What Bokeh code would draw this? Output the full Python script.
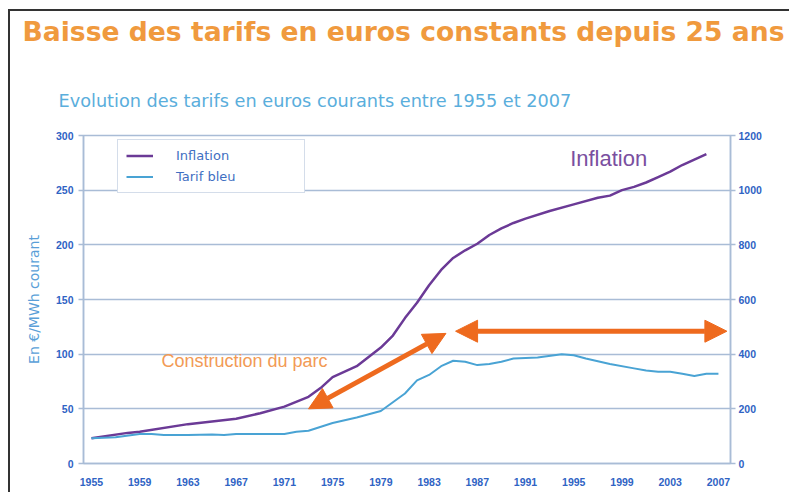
from bokeh.plotting import figure
from bokeh.models import (LinearAxis, Range1d, Label, Legend, LegendItem, Arrow,
                          NormalHead, FixedTicker, Title)
from bokeh.embed import file_html
from bokeh.resources import INLINE

# ---------------- data ----------------
years_infl = [1955, 1958, 1959, 1963, 1967, 1969, 1971, 1973, 1974, 1975, 1977, 1979,
              1980, 1981, 1982, 1983, 1984, 1985, 1986, 1987, 1988, 1989, 1990, 1991,
              1993, 1995, 1997, 1998, 1999, 2000, 2001, 2002, 2003, 2004, 2005, 2006]
inflation = [23, 28, 29, 36, 41, 46, 52, 61, 69, 79, 89, 106,
             117, 133, 147, 163, 177, 188, 195, 201, 209, 215, 220, 224,
             231, 237, 243, 245, 250, 253, 257, 262, 267, 273, 278, 283]

years_tarif = [1955, 1957, 1959, 1960, 1961, 1963, 1965, 1966, 1967, 1969, 1971, 1972,
               1973, 1975, 1977, 1979, 1980, 1981, 1982, 1983, 1984, 1985, 1986, 1987,
               1988, 1989, 1990, 1992, 1994, 1995, 1996, 1998, 2000, 2001, 2002, 2003,
               2004, 2005, 2006, 2007]
tarif_bleu = [23, 24, 27, 27, 26, 26, 26.5, 26, 27, 27, 27, 29,
              30, 37, 42, 48, 56, 64, 76, 81, 89, 94, 93, 90,
              91, 93, 96, 97, 100, 99, 96, 91, 87, 85, 84, 84,
              82, 80, 82, 82]

x_ticks = list(range(1955, 2008, 4))
left_ticks = [0, 50, 100, 150, 200, 250, 300]
right_ticks = [0, 200, 400, 600, 800, 1000, 1200]

arrow_diag_x = [1973.0, 1984.4]
arrow_diag_y = [50, 119]
arrow_h_x = [1985.2, 2007.7]
arrow_h_y = [121, 121]

title_text = "Baisse des tarifs en euros constants depuis 25 ans"
subtitle_text = "Evolution des tarifs en euros courants entre 1955 et 2007"
y_label = "En €/MWh courant"
series_names = ["Inflation", "Tarif bleu"]
note_construction = "Construction du parc"
note_inflation = "Inflation"

# ---------------- styles ----------------
FONT = "Liberation Sans"
WIDE = "DejaVu Sans"
ORANGE_T = "#F09A3E"
SUB_BLUE = "#5AAEDC"
TICK_BLUE = "#2F63C4"
GRID = "#A9BCD6"
PURPLE = "#6B3A96"
LBLUE = "#49A3D4"
ARROW = "#EE6A1E"

p = figure(width=781, height=483, output_backend="svg", toolbar_location=None,
           x_range=Range1d(1954.34, 2008.0), y_range=Range1d(0, 300),
           min_border_left=73, min_border_right=61, min_border_top=124,
           min_border_bottom=31, background_fill_color="white",
           border_fill_color="white")
p.styles = {"border-top": "2px solid #333333", "border-left": "2px solid #333333",
            "margin-top": "9px", "margin-left": "8px"}
p.outline_line_color = GRID
p.outline_line_width = 1.5

# titles: p.title is the outer one, the added Title sits next to the frame
p.title.text = title_text
p.title.align = "left"
p.title.offset = -61
p.title.standoff = 5
p.title.text_font = WIDE
p.title.text_font_size = "26.6px"
p.title.text_font_style = "bold"
p.title.text_color = ORANGE_T
sub_title = Title(text=subtitle_text, align="left", offset=-25, standoff=50,
                  padding=dict(left=0, right=0, top=14, bottom=0),
                  text_font=WIDE, text_font_size="17.7px", text_font_style="normal",
                  text_color=SUB_BLUE)
p.add_layout(sub_title, "above")

p.extra_y_ranges = {"r": Range1d(0, 1200)}
right_axis = LinearAxis(y_range_name="r")
p.add_layout(right_axis, "right")

for ax in [p.yaxis[0], right_axis]:
    ax.axis_line_color = GRID
    ax.axis_line_width = 1.5
    ax.major_tick_line_color = GRID
    ax.major_tick_line_width = 1.5
    ax.major_tick_out = 5
    ax.major_tick_in = 0
    ax.minor_tick_line_color = None
    ax.major_label_text_font = FONT
    ax.major_label_text_font_size = "10.5px"
    ax.major_label_text_font_style = "bold"
    ax.major_label_text_color = TICK_BLUE
p.yaxis[0].major_label_standoff = 5
right_axis.major_label_standoff = 3
p.yaxis[0].ticker = FixedTicker(ticks=left_ticks)
right_axis.ticker = FixedTicker(ticks=right_ticks)
p.yaxis[0].axis_label = y_label
p.yaxis[0].axis_label_text_font = WIDE
p.yaxis[0].axis_label_text_font_size = "14px"
p.yaxis[0].axis_label_text_font_style = "normal"
p.yaxis[0].axis_label_text_color = "#5A9FD8"
p.yaxis[0].axis_label_standoff = 11

xa = p.xaxis[0]
xa.ticker = FixedTicker(ticks=x_ticks)
xa.axis_line_color = GRID
xa.axis_line_width = 1.5
xa.major_tick_line_color = None
xa.minor_tick_line_color = None
xa.major_tick_out = 0
xa.major_tick_in = 0
xa.major_label_standoff = 14
xa.major_label_text_font = FONT
xa.major_label_text_font_size = "10.5px"
xa.major_label_text_font_style = "bold"
xa.major_label_text_color = TICK_BLUE

p.xgrid.visible = False
p.ygrid.ticker = FixedTicker(ticks=left_ticks)
p.ygrid.grid_line_color = GRID
p.ygrid.grid_line_width = 1.5

r_infl = p.line(years_infl, inflation, line_color=PURPLE, line_width=2.5)
r_tarif = p.line(years_tarif, tarif_bleu, line_color=LBLUE, line_width=2)

legend = Legend(items=[LegendItem(label=series_names[0], renderers=[r_infl]),
                       LegendItem(label=series_names[1], renderers=[r_tarif])],
                location=(34, 270), margin=0, padding=8, spacing=6,
                glyph_width=27, glyph_height=15, label_height=15,
                label_standoff=23, label_width=120,
                border_line_color=GRID, border_line_width=1.5,
                label_text_font=WIDE, label_text_font_size="13px",
                label_text_color="#3F6FC2", background_fill_alpha=1)
p.add_layout(legend)

head = dict(size=22, fill_color=ARROW, line_color=ARROW)
p.add_layout(Arrow(start=NormalHead(**head), end=NormalHead(**head),
                   x_start=arrow_diag_x[0], y_start=arrow_diag_y[0],
                   x_end=arrow_diag_x[1], y_end=arrow_diag_y[1],
                   line_color=ARROW, line_width=5))
p.add_layout(Arrow(start=NormalHead(**head), end=NormalHead(**head),
                   x_start=arrow_h_x[0], y_start=arrow_h_y[0],
                   x_end=arrow_h_x[1], y_end=arrow_h_y[1],
                   line_color=ARROW, line_width=5))

p.add_layout(Label(x=1960.8, y=93.3, text=note_construction, text_font=FONT,
                   text_font_size="18px", text_color="#F29A55",
                   text_baseline="middle", text_align="left"))
p.add_layout(Label(x=1994.7, y=279, text=note_inflation, text_font=FONT,
                   text_font_size="22px", text_color="#7A4FA0",
                   text_baseline="middle", text_align="left"))

open("out.html", "w").write(file_html(p, INLINE))
